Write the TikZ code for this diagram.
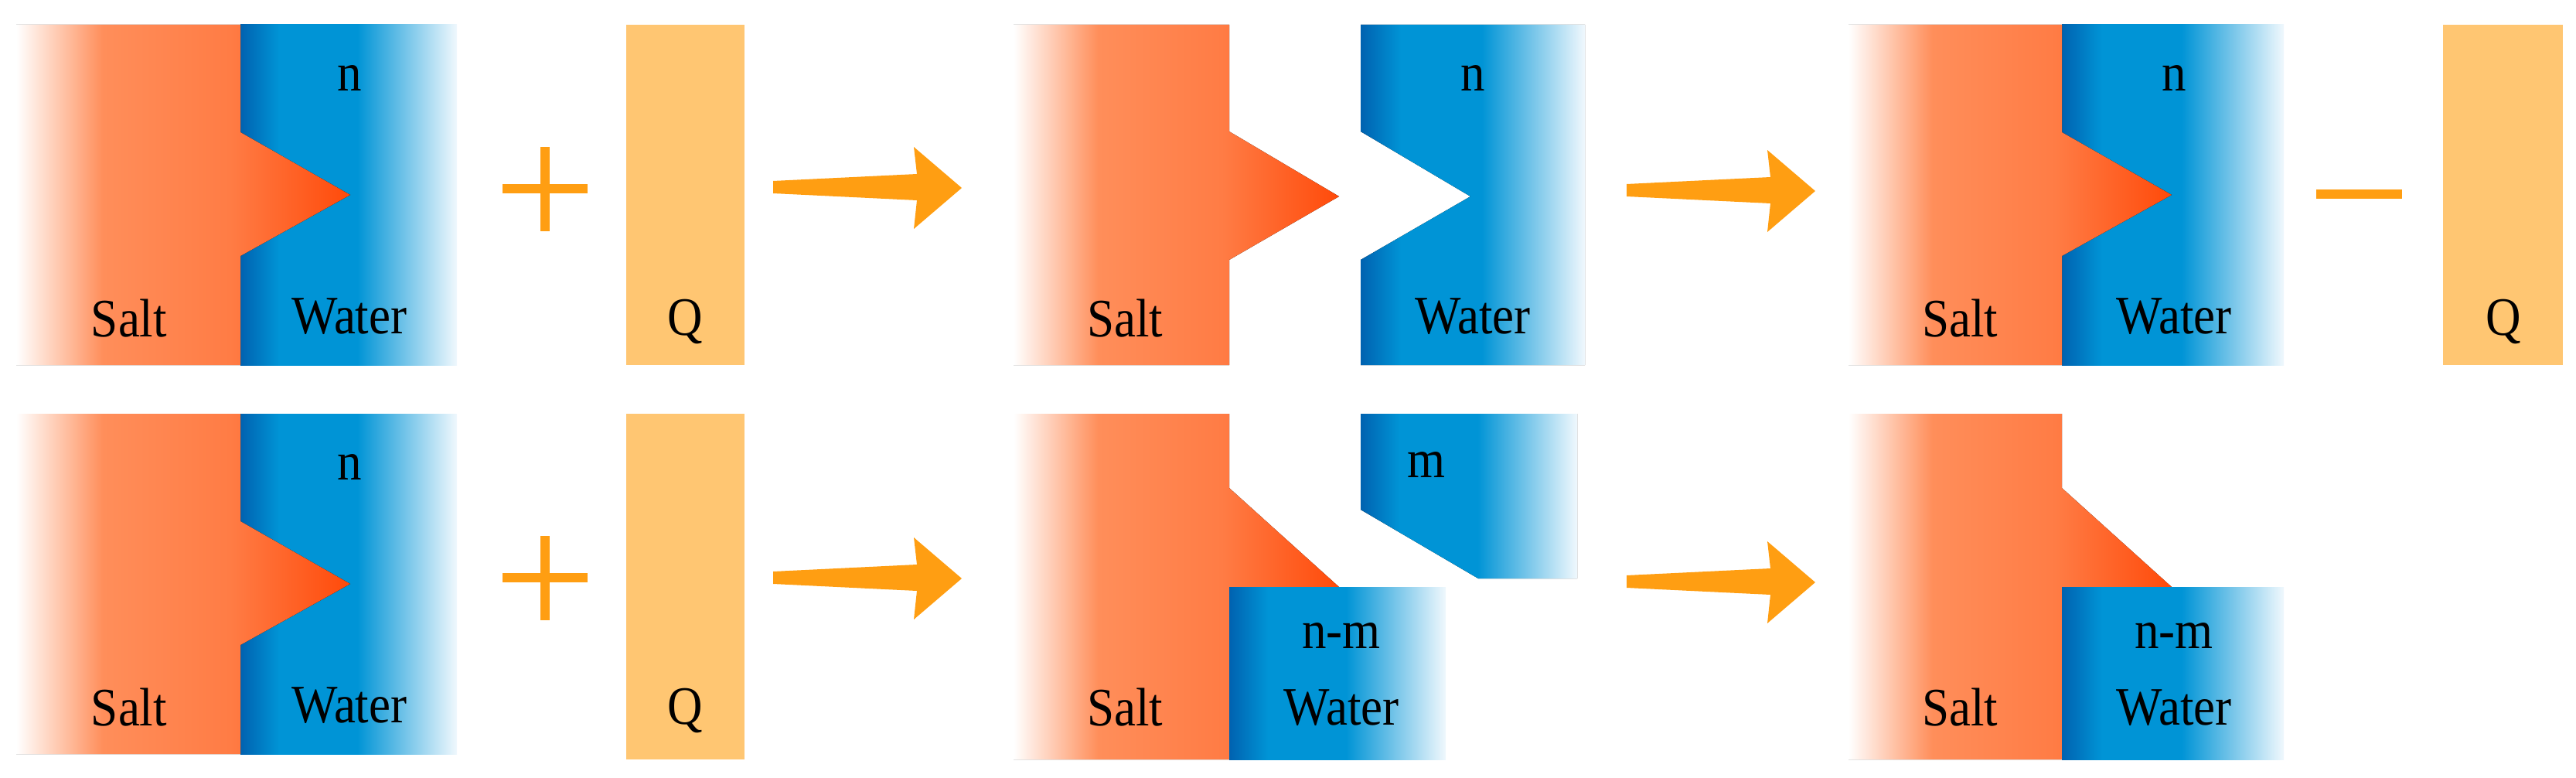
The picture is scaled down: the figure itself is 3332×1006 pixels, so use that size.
\documentclass[tikz,border=0pt]{standalone}
\usepackage{fontspec}
\setmainfont{Liberation Serif}
\newfontfamily\lblfont{Liberation Serif}
\definecolor{saltc}{HTML}{FF8E5A}
\definecolor{saltm}{HTML}{FF7C45}
\definecolor{saltd}{HTML}{FF4A0A}
\definecolor{wdark}{HTML}{0062B0}
\definecolor{wmid}{HTML}{0094D6}
\definecolor{wlight}{HTML}{F0F8FD}
\definecolor{qcol}{HTML}{FFC672}
\definecolor{arr}{HTML}{FF9E12}
\pgfdeclarehorizontalshading{saltsh}{100bp}{color(0bp)=(white); color(25bp)=(white); color(38bp)=(saltc); color(57bp)=(saltm); color(75bp)=(saltd); color(100bp)=(saltd)}
\pgfdeclarehorizontalshading{watersh}{100bp}{color(0bp)=(wdark); color(25bp)=(wdark); color(34bp)=(wmid); color(52bp)=(wmid); color(75bp)=(wlight); color(100bp)=(wlight)}
\tikzset{
  salt/.style={shading=saltsh},
  water/.style={shading=watersh},
  qbox/.style={fill=qcol},
  arrowshape/.style={fill=arr},
  lbl/.style={font=\lblfont\fontsize{70}{70}\selectfont, inner sep=0pt, xscale=0.9},
  sym/.style={draw=arr, line width=12pt}
}
\newcommand\myarrow[3]{% x0 x1 y
  \fill[arrowshape] (#1,#3-8) -- (#2-58,#3-17) -- (#2-62,#3-52) -- (#2,#3+1) -- (#2-62,#3+54) -- (#2-58,#3+17) -- (#1,#3+8) -- cycle;}
\newcommand\fullblock[2]{%
  \begin{scope}[shift={(#1,#2)}]
    \fill[water] (311,32) rectangle (591,472);
    \fill[salt] (21,32) -- (311,32) -- (311,171) -- (453,252) -- (311,331) -- (311,472) -- (21,472) -- cycle;
  \end{scope}}
\begin{document}
\begin{tikzpicture}[x=1pt,y=-1pt]
\useasboundingbox (0,0) rectangle (3332,1006);
% ---- row 1 ----
\fullblock{0}{0}
\node[lbl] (n1) at (452,101) {n};
\node[lbl] (s1) at (167,412) {Salt};
\node[lbl] (w1) at (452,409) {Water};
\draw[sym] (650,244) -- (760,244) (705,190) -- (705,299);
\fill[qbox] (810,32) rectangle (963,472);
\node[lbl] (q1) at (886,416) {Q};
\myarrow{1000}{1244}{242}
\fill[salt] (1311,32) -- (1590,32) -- (1590,170) -- (1732,254) -- (1590,336) -- (1590,472) -- (1311,472) -- cycle;
\fill[water] (1760,32) -- (2050,32) -- (2050,472) -- (1760,472) -- (1760,336) -- (1902,254) -- (1760,170) -- cycle;
\node[lbl] (n2) at (1905,101) {n};
\node[lbl] (s2) at (1455,412) {Salt};
\node[lbl] (w2) at (1905,409) {Water};
\myarrow{2104}{2348}{246}
\begin{scope}[shift={(2370,0)}]
  \fill[water] (297,32) rectangle (584,472);
  \fill[salt] (21,32) -- (297,32) -- (297,171) -- (439,252) -- (297,331) -- (297,472) -- (21,472) -- cycle;
\end{scope}
\node[lbl] (n3) at (2812,101) {n};
\node[lbl] (s3) at (2535,412) {Salt};
\node[lbl] (w3) at (2812,409) {Water};
\draw[sym] (2996,251) -- (3107,251);
\fill[qbox] (3160,32) rectangle (3315,472);
\node[lbl] (q3) at (3238,416) {Q};
% ---- row 2 ----
\fullblock{0}{503}
\node[lbl] (n4) at (452,604) {n};
\node[lbl] (s4) at (167,915) {Salt};
\node[lbl] (w4) at (452,912) {Water};
\draw[sym] (650,747) -- (760,747) (705,693) -- (705,802);
\fill[qbox] (810,535) rectangle (963,982);
\node[lbl] (q4) at (886,919) {Q};
\myarrow{1000}{1244}{747}
\fill[salt] (1311,535) -- (1590,535) -- (1590,631) -- (1732,759) -- (1590,759) -- (1590,982) -- (1311,982) -- cycle;
\fill[water] (1590,759) rectangle (1870,982);
\fill[water] (1760,535) -- (2040,535) -- (2040,748) -- (1912,748) -- (1760,659) -- cycle;
\node[lbl] (m5) at (1845,601) {m};
\node[lbl] (s5) at (1455,915) {Salt};
\node[lbl] (nm5) at (1735,822) {n-m};
\node[lbl] (w5) at (1735,915) {Water};
\myarrow{2104}{2348}{752}
\fill[salt] (2391,535) -- (2667,535) -- (2667,631) -- (2809,759) -- (2667,759) -- (2667,982) -- (2391,982) -- cycle;
\fill[water] (2667,759) rectangle (2954,982);
\node[lbl] (s6) at (2535,915) {Salt};
\node[lbl] (nm6) at (2812,822) {n-m};
\node[lbl] (w6) at (2812,915) {Water};
\end{tikzpicture}
\end{document}
